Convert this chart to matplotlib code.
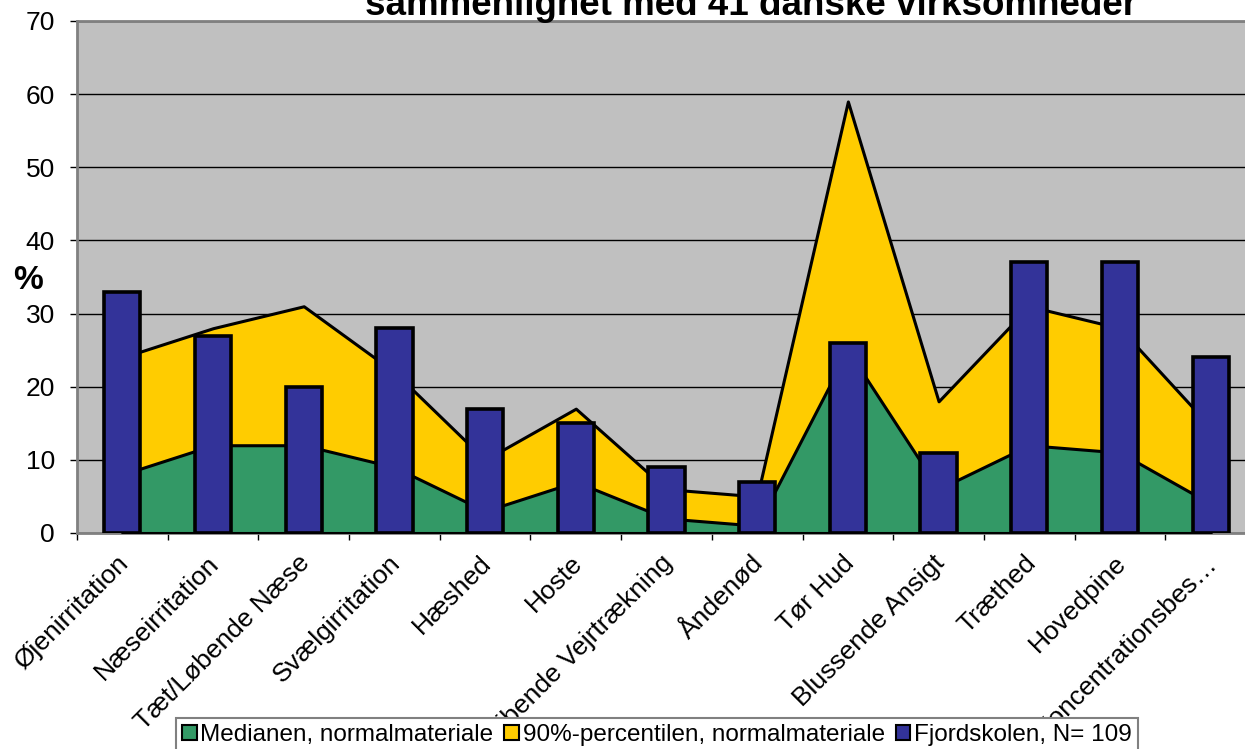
import matplotlib
matplotlib.use("Agg")
import matplotlib.pyplot as plt
from matplotlib.patches import Patch
import matplotlib.transforms as mtransforms
import numpy as np

categories = ["Øjenirritation", "Næseirritation", "Tæt/Løbende Næse", "Svælgirritation",
              "Hæshed", "Hoste", "Pibende Vejrtrækning", "Åndenød", "Tør Hud",
              "Blussende Ansigt", "Træthed", "Hovedpine", "Koncentrationsbes…"]
median_vals = [8, 12, 12, 9, 3, 7, 2, 1, 25, 6, 12, 11, 4]
p90_vals = [24, 28, 31, 22, 10, 17, 6, 5, 59, 18, 31, 28, 14.5]
fjord_vals = [33, 27, 20, 28, 17, 15, 9, 7, 26, 11, 37, 37, 24]
yticks = [0, 10, 20, 30, 40, 50, 60, 70]
title = "sammenlignet med 41 danske virksomheder"
legend_labels = ["Medianen, normalmateriale", "90%-percentilen, normalmateriale", "Fjordskolen, N= 109"]

GREEN = "#339966"
YELLOW = "#FFCC00"
BLUE = "#333399"
GRAY_BG = "#C0C0C0"
EDGE_GRAY = "#808080"

plt.rcParams['font.family'] = ['Liberation Sans', 'DejaVu Sans']

W, H = 1245, 749
fig = plt.figure(figsize=(W / 100, H / 100), dpi=100)
left_px, right_px, top_px, bottom_px = 77, 1256, 21, 533
ax = fig.add_axes([left_px / W, (H - bottom_px) / H, (right_px - left_px) / W, (bottom_px - top_px) / H])
ax.set_facecolor(GRAY_BG)

x = np.arange(len(categories))
ax.fill_between(x, 0, p90_vals, facecolor=YELLOW, edgecolor="black", linewidth=2.2, zorder=2)
ax.fill_between(x, 0, median_vals, facecolor=GREEN, edgecolor="black", linewidth=2.2, zorder=3)
ax.bar(x, fjord_vals, width=0.4, color=BLUE, edgecolor="black", linewidth=2.6, zorder=4)

ax.set_xlim(-0.5, len(categories) - 0.5)
ax.set_ylim(0, 70)
ax.set_yticks(yticks)
ax.yaxis.grid(True, color="black", linewidth=1.0, zorder=1)
ax.set_axisbelow(True)
for s in ["left", "top", "bottom", "right"]:
    ax.spines[s].set_color(EDGE_GRAY)
    ax.spines[s].set_linewidth(2)
ax.tick_params(axis="y", direction="out", length=5, width=1, color="black", labelsize=19, pad=11)

ax.set_xticks(x)
ax.set_xticks(np.arange(-0.5, len(categories), 1.0), minor=True)
ax.tick_params(axis="x", which="major", length=0, pad=13)
ax.tick_params(axis="x", which="minor", length=5, width=1, color="black", direction="out")
ax.set_xticklabels(categories, rotation=45, ha="right", rotation_mode="anchor", fontsize=19)
offset = mtransforms.ScaledTranslation(-6 / 100, 0, fig.dpi_scale_trans)
for lbl in ax.get_xticklabels():
    lbl.set_transform(lbl.get_transform() + offset)

fig.text(28 / W, 1 - 280 / H, "%", ha="center", va="center", fontsize=24, fontweight="bold")
fig.text(751 / W, 1 - 15 / H, title, ha="center", va="baseline", fontsize=26.5, fontweight="bold")

handles = [Patch(facecolor=GREEN, edgecolor="black", linewidth=1.5),
           Patch(facecolor=YELLOW, edgecolor="black", linewidth=1.5),
           Patch(facecolor=BLUE, edgecolor="black", linewidth=1.5)]
leg = fig.legend(handles, legend_labels, loc="upper left",
                 bbox_to_anchor=(176 / W, 1 - 718 / H), bbox_transform=fig.transFigure,
                 ncol=3, fontsize=17.5, frameon=True, fancybox=False, borderaxespad=0,
                 handlelength=0.6, handleheight=0.6, handletextpad=0.15, columnspacing=0.45,
                 borderpad=0.25)
leg.get_frame().set_edgecolor(EDGE_GRAY)
leg.get_frame().set_linewidth(1.5)
leg.get_frame().set_facecolor("white")
leg.get_frame().set_alpha(1)
leg.set_zorder(10)

fig.savefig("out.png", dpi=100)
